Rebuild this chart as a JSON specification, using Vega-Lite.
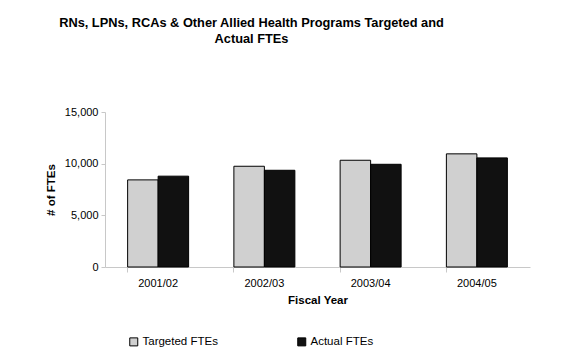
{
  "$schema": "https://vega.github.io/schema/vega-lite/v6.json",
  "width": 425,
  "height": 155,
  "autosize": {"type": "none"},
  "padding": {"left": 105, "top": 112, "right": 45, "bottom": 91},
  "background": "white",
  "title": {
    "text": ["RNs, LPNs, RCAs & Other Allied Health Programs Targeted and", "Actual FTEs"],
    "font": "Liberation Sans",
    "fontSize": 12.8,
    "fontWeight": "bold",
    "color": "#000000",
    "anchor": "middle",
    "dx": -66,
    "offset": 60,
    "lineHeight": 16
  },
  "data": {
    "values": [
      {"year": "2001/02", "series": "Targeted FTEs", "fte": 8430},
      {"year": "2001/02", "series": "Actual FTEs", "fte": 8790},
      {"year": "2002/03", "series": "Targeted FTEs", "fte": 9750},
      {"year": "2002/03", "series": "Actual FTEs", "fte": 9360},
      {"year": "2003/04", "series": "Targeted FTEs", "fte": 10330},
      {"year": "2003/04", "series": "Actual FTEs", "fte": 9940},
      {"year": "2004/05", "series": "Targeted FTEs", "fte": 10950},
      {"year": "2004/05", "series": "Actual FTEs", "fte": 10560}
    ]
  },
  "mark": {"type": "bar", "stroke": "#000000", "strokeWidth": 1},
  "encoding": {
    "x": {
      "field": "year",
      "type": "nominal",
      "sort": null,
      "scale": {"paddingInner": 0.426, "paddingOuter": 0.213},
      "axis": {
        "title": "Fiscal Year",
        "titleFont": "Liberation Sans",
        "titleFontSize": 11.5,
        "titleFontWeight": "bold",
        "titleColor": "#000000",
        "titlePadding": 6,
        "labelFont": "Liberation Sans",
        "labelFontSize": 11,
        "labelColor": "#000000",
        "labelAngle": 0,
        "labelPadding": 5,
        "bandPosition": 0,
        "tickSize": 5,
        "tickColor": "#c8c8c8",
        "domainColor": "#c8c8c8",
        "grid": false
      }
    },
    "xOffset": {
      "field": "series",
      "type": "nominal",
      "sort": ["Targeted FTEs", "Actual FTEs"],
      "scale": {"paddingInner": 0, "paddingOuter": 0}
    },
    "y": {
      "field": "fte",
      "type": "quantitative",
      "scale": {"domain": [0, 15000], "nice": false},
      "axis": {
        "title": "# of FTEs",
        "titleFont": "Liberation Sans",
        "titleFontSize": 11.5,
        "titleFontWeight": "bold",
        "titleColor": "#000000",
        "titlePadding": 8,
        "values": [0, 5000, 10000, 15000],
        "format": ",d",
        "labelFont": "Liberation Sans",
        "labelFontSize": 11,
        "labelColor": "#000000",
        "labelPadding": 3,
        "tickSize": 4,
        "tickColor": "#c8c8c8",
        "domainColor": "#c8c8c8",
        "grid": false
      }
    },
    "color": {
      "field": "series",
      "type": "nominal",
      "sort": ["Targeted FTEs", "Actual FTEs"],
      "scale": {"domain": ["Targeted FTEs", "Actual FTEs"], "range": ["#d0d0d0", "#111111"]},
      "legend": {
        "title": null,
        "orient": "none",
        "legendX": 23,
        "legendY": 224,
        "direction": "horizontal",
        "columns": 2,
        "columnPadding": 77,
        "symbolType": "square",
        "symbolSize": 64,
        "symbolStrokeColor": "#000000",
        "symbolStrokeWidth": 1,
        "labelFont": "Liberation Sans",
        "labelFontSize": 11.5,
        "labelColor": "#000000",
        "labelOffset": 3
      }
    }
  },
  "config": {
    "view": {"stroke": null}
  }
}
